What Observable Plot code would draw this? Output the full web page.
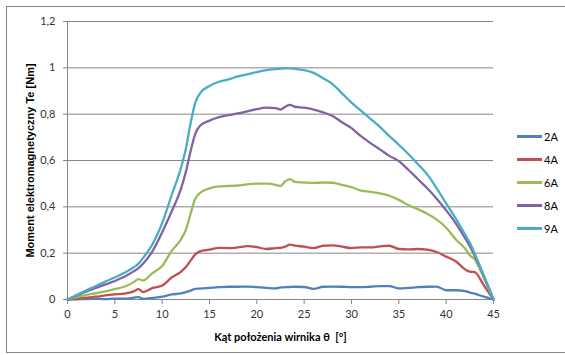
<!DOCTYPE html>
<html>
<head>
<meta charset="utf-8">
<script src="https://cdn.jsdelivr.net/npm/d3@7"></script>
<script src="https://cdn.jsdelivr.net/npm/@observablehq/plot@0.6"></script>
<style>
  body { margin: 0; background: #fff; font-family: Lato, "Liberation Sans", sans-serif; }
  #wrap { position: relative; width: 565px; height: 355px; }
  #border { position: absolute; left: 6px; top: 6px; width: 570px; height: 347px; border: 1px solid #868686; box-sizing: border-box; pointer-events: none; }
  .leg { position: absolute; left: 517px; height: 14px; display: flex; align-items: center; font-size: 11px; color: #000; }
  .leg span.sw { display: inline-block; width: 25px; height: 3px; margin-right: 2px; }
</style>
</head>
<body>
<div id="wrap"><div id="border"></div></div>
<script>
const seriesNames = ["2A", "4A", "6A", "8A", "9A"];
const seriesColors = ["#4F81BD", "#C0504D", "#9BBB59", "#8064A2", "#4BACC6"];
const angles = [0,1,2,3,4,5,6,7,7.5,8,9,10,11,12,12.5,13,13.5,14,15,16,17,18,19,20,21,22,22.5,23,23.5,24,25,26,27,28,29,30,31,32,33,34,35,36,37,38,39,40,41,42,42.5,43,44,45];
const te2A = [0,0.001,0.002,0.004,0.002,0.004,0.004,0.008,0.01,0.003,0.007,0.012,0.022,0.026,0.032,0.038,0.046,0.047,0.05,0.053,0.055,0.055,0.056,0.053,0.05,0.048,0.052,0.053,0.054,0.055,0.054,0.046,0.055,0.056,0.055,0.053,0.053,0.055,0.058,0.058,0.048,0.05,0.053,0.055,0.056,0.04,0.04,0.036,0.03,0.025,0.012,0];
const te4A = [0,0.004,0.008,0.012,0.018,0.022,0.025,0.035,0.045,0.032,0.05,0.06,0.095,0.12,0.14,0.168,0.195,0.208,0.215,0.223,0.222,0.225,0.23,0.226,0.218,0.222,0.223,0.228,0.237,0.233,0.228,0.222,0.232,0.234,0.228,0.222,0.225,0.225,0.229,0.232,0.218,0.216,0.218,0.215,0.205,0.185,0.165,0.13,0.12,0.118,0.06,0];
const te6A = [0,0.01,0.02,0.027,0.035,0.045,0.055,0.075,0.088,0.082,0.115,0.145,0.21,0.26,0.3,0.37,0.435,0.46,0.48,0.488,0.49,0.492,0.497,0.5,0.5,0.495,0.49,0.51,0.52,0.508,0.505,0.503,0.505,0.504,0.495,0.485,0.47,0.465,0.458,0.448,0.43,0.408,0.39,0.37,0.345,0.31,0.26,0.22,0.19,0.175,0.09,0];
const te8A = [0,0.018,0.035,0.05,0.065,0.08,0.098,0.122,0.135,0.155,0.21,0.29,0.38,0.48,0.55,0.64,0.715,0.75,0.772,0.787,0.796,0.803,0.812,0.822,0.828,0.826,0.82,0.832,0.84,0.832,0.828,0.82,0.808,0.792,0.765,0.74,0.705,0.675,0.648,0.62,0.597,0.56,0.52,0.48,0.435,0.385,0.33,0.265,0.23,0.19,0.1,0];
const te9A = [0,0.02,0.04,0.058,0.078,0.095,0.115,0.139,0.155,0.18,0.24,0.33,0.45,0.57,0.65,0.76,0.85,0.89,0.922,0.94,0.95,0.963,0.972,0.982,0.99,0.995,0.997,0.998,0.998,0.996,0.99,0.978,0.955,0.93,0.89,0.85,0.815,0.78,0.745,0.705,0.668,0.628,0.585,0.54,0.48,0.415,0.35,0.28,0.245,0.2,0.1,0];
const xTicks = [0,5,10,15,20,25,30,35,40,45];
const yTicks = [0,0.2,0.4,0.6,0.8,1,1.2];
const xTitle = "Kąt położenia wirnika θ  [°]";
const yTitle = "Moment elektromagnetyczny Te [Nm]";

const allSeries = [te2A, te4A, te6A, te8A, te9A];
const rows = [];
allSeries.forEach((vals, i) => vals.forEach((v, j) => rows.push({angle: angles[j], te: v, s: seriesNames[i]})));

const fmt = d => String(+d.toFixed(1)).replace(".", ",");
const grid = "#868686";

const chart = Plot.plot({
  width: 565, height: 355,
  marginLeft: 67, marginRight: 72, marginTop: 21, marginBottom: 56,
  style: {fontFamily: "Lato, 'Liberation Sans', sans-serif", fontSize: "11px", background: "transparent", overflow: "visible"},
  x: {domain: [0, 45]},
  y: {domain: [0, 1.2]},
  color: {domain: seriesNames, range: seriesColors},
  marks: [
    Plot.gridY(yTicks.filter(d => d > 0), {stroke: grid, strokeOpacity: 1}),
    Plot.ruleY([0], {stroke: grid}),
    Plot.ruleX([0], {stroke: grid}),
    Plot.axisX({ticks: xTicks, tickSize: 5, tickPadding: 6, stroke: grid, fill: "#333", label: null}),
    Plot.axisY({ticks: yTicks, tickSize: 4, tickPadding: 8, stroke: grid, fill: "#333", tickFormat: fmt, label: null}),
    Plot.line(rows, {x: "angle", y: "te", z: "s", stroke: "s", strokeWidth: 2.3, curve: "monotone-x"}),
    Plot.text([xTitle], {frameAnchor: "bottom", dy: 38, textAnchor: "middle", lineAnchor: "middle", fontWeight: "bold", fontSize: 11, fill: "#000"}),
    Plot.text([yTitle], {frameAnchor: "left", dx: -37, rotate: -90, textAnchor: "middle", lineAnchor: "middle", fontWeight: "bold", fontSize: 11, fontFamily: "'Liberation Sans', Arial, sans-serif", fill: "#000"})
  ]
});
const wrap = document.getElementById("wrap");
chart.style.position = "absolute";
chart.style.left = "0";
chart.style.top = "0";
wrap.appendChild(chart);

seriesNames.forEach((name, i) => {
  const d = document.createElement("div");
  d.className = "leg";
  d.style.top = (136 + 23 * i - 7) + "px";
  const sw = document.createElement("span");
  sw.className = "sw";
  sw.style.background = seriesColors[i];
  d.appendChild(sw);
  d.appendChild(document.createTextNode(name));
  wrap.appendChild(d);
});
</script>
</body>
</html>
